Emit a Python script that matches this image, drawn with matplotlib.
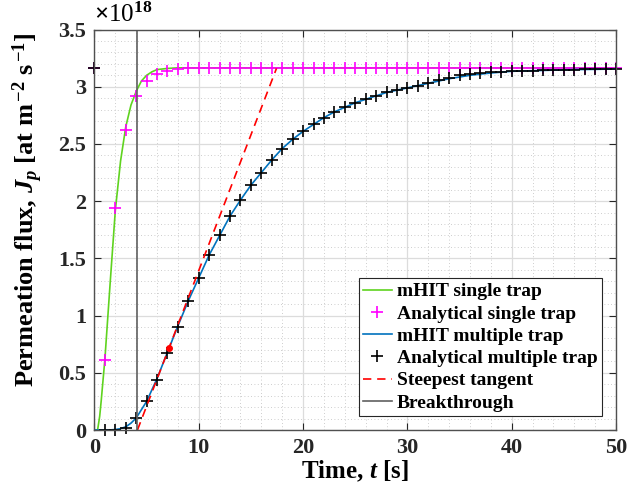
import matplotlib
matplotlib.use("Agg")
import matplotlib.pyplot as plt
from matplotlib.ticker import MultipleLocator

plt.rcParams['font.family'] = ['Liberation Serif', 'DejaVu Serif']
plt.rcParams['font.weight'] = 'bold'
plt.rcParams['mathtext.fontset'] = 'custom'
plt.rcParams['mathtext.rm'] = 'Liberation Serif:bold'
plt.rcParams['mathtext.it'] = 'Liberation Serif:italic:bold'
plt.rcParams['mathtext.bf'] = 'Liberation Serif:bold'

# mHIT single trap (flux in 1e18 at m^-2 s^-1)
t_single = [0, 0.3, 0.5, 0.65, 1, 1.5, 2, 2.5, 3, 3.5, 4, 4.5, 5, 5.5, 6, 7, 8, 10, 50]
j_single = [0, 0.0, 0.12, 0.26, 0.62, 1.28, 1.92, 2.35, 2.65, 2.84, 2.96, 3.05, 3.10,
            3.13, 3.15, 3.16, 3.165, 3.165, 3.165]

# analytical single trap, sampled every second
t_an = list(range(0, 51))
j_an_single = [3.16, 0.61, 1.94, 2.62, 2.92, 3.05, 3.11, 3.14, 3.155] + [3.16] * 42

# mHIT multiple trap
t_multi = [0, 1, 1.5, 2, 2.5, 3, 3.5, 4, 5, 6, 7, 8, 9, 10, 11, 12, 13, 14, 15, 16, 17,
           18, 19, 20, 21, 22, 23, 24, 25, 26, 27, 28, 29, 30, 32, 34, 36, 38, 40, 42,
           44, 46, 48, 50]
j_multi = [0, 0, 0.001, 0.004, 0.012, 0.028, 0.06, 0.105, 0.25, 0.45, 0.68, 0.91, 1.13,
           1.33, 1.53, 1.70, 1.87, 2.01, 2.14, 2.25, 2.36, 2.46, 2.54, 2.61, 2.67,
           2.73, 2.78, 2.82, 2.86, 2.89, 2.92, 2.95, 2.97, 2.99, 3.03, 3.07, 3.10,
           3.12, 3.135, 3.14, 3.145, 3.15, 3.152, 3.155]

# analytical multiple trap, sampled every second
j_an_multi = [3.16, 0, 0, 0.02, 0.105, 0.25, 0.44, 0.67, 0.90, 1.13, 1.33, 1.53, 1.70,
              1.87, 2.01, 2.14, 2.25, 2.36, 2.46, 2.54, 2.61, 2.67, 2.73, 2.78, 2.82,
              2.86, 2.89, 2.92, 2.95, 2.97, 2.99, 3.01, 3.03, 3.06, 3.08, 3.10, 3.11,
              3.12, 3.125, 3.13, 3.135, 3.14, 3.14, 3.145, 3.145, 3.15, 3.15, 3.152,
              3.155, 3.155, 3.155]

# steepest tangent and breakthrough time
t_tangent = [4.12, 17.45]
j_tangent = [0, 3.16]
t_inflect, j_inflect = 7.1, 0.72
t_breakthrough = 4.12

fig = plt.figure(figsize=(6.44, 4.97), dpi=100)
ax = fig.add_axes([0.1467, 0.1348, 0.8098, 0.8058])

ax.plot(t_single, j_single, color='#5fd31f', lw=1.2, label='mHIT single trap')
ax.plot(t_an, j_an_single, ls='none', marker='+', ms=8, mew=1.2, color='#ff00ff',
        label='Analytical single trap', clip_on=False)
ax.plot(t_multi, j_multi, color='#0072bd', lw=1.2, label='mHIT multiple trap')
ax.plot(t_an, j_an_multi, ls='none', marker='+', ms=8, mew=1.2, color='black',
        label='Analytical multiple trap', clip_on=False)
ax.plot(t_tangent, j_tangent, color='red', ls=(0, (5, 3.5)), lw=1.2,
        label='Steepest tangent')
ax.plot([t_inflect], [j_inflect], 'o', color='red', ms=4)
ax.axvline(t_breakthrough, color='#606060', lw=1.2, label='Breakthrough')

ax.set_xlim(0, 50)
ax.set_ylim(0, 3.5)
ax.xaxis.set_major_locator(MultipleLocator(10))
ax.xaxis.set_minor_locator(MultipleLocator(2))
ax.yaxis.set_minor_locator(MultipleLocator(0.1))
ax.set_yticks([0, 0.5, 1, 1.5, 2, 2.5, 3, 3.5])
ax.set_yticklabels(['0', '0.5', '1', '1.5', '2', '2.5', '3', '3.5'])

ax.grid(which='major', color='#dcdcdc', lw=0.9)
ax.grid(which='minor', color='#bdbdbd', lw=0.6, ls=(0, (1, 3)))
ax.set_axisbelow(True)

ax.tick_params(which='both', direction='in', top=True, right=True, labelsize=16,
               colors='#262626')
ax.tick_params(which='major', length=5, pad=6)
ax.tick_params(which='minor', length=0)
for s in ax.spines.values():
    s.set_color('#505050')
    s.set_linewidth(1.0)

ax.set_xlabel('Time, $t$ [s]', fontsize=18, fontweight='bold', labelpad=0)
ax.set_ylabel(r'Permeation flux, $J_p$ [at m$^{\,\mathbf{-2}}$ s$^{\,\mathbf{-1}}$]',
              fontsize=19, fontweight='bold')
ax.yaxis.set_label_coords(-0.095, 0.55)
ax.text(0.0, 1.006, r'$\times$10$^{18}$', transform=ax.transAxes, fontsize=18,
        fontweight='normal', ha='left', va='bottom')

leg = ax.legend(loc='lower right', bbox_to_anchor=(0.973, 0.035), borderaxespad=0,
                fancybox=False, framealpha=1, edgecolor='#262626', fontsize=14,
                handlelength=1.5, handletextpad=0.25, labelspacing=0.24,
                borderpad=0.22)
leg.get_frame().set_linewidth(0.8)

fig.savefig('out.png', dpi=100)
